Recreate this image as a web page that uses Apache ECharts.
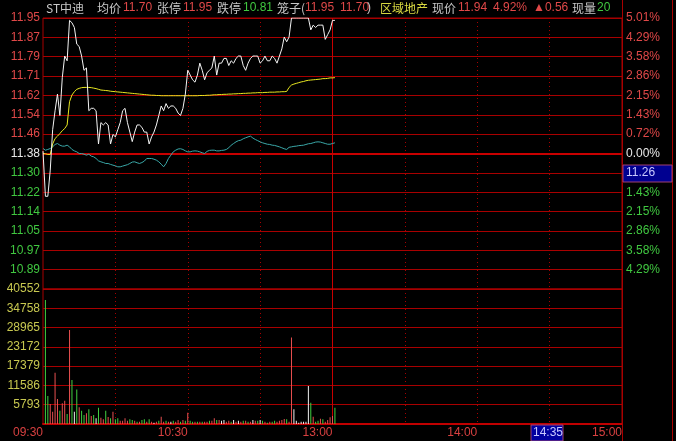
<!DOCTYPE html>
<html><head><meta charset="utf-8">
<script src="https://cdn.jsdelivr.net/npm/echarts@6/dist/echarts.min.js"></script>
<style>html,body{margin:0;padding:0;background:#000;}#c{width:676px;height:441px;}</style>
</head><body><div id="c"></div>
<script>
// ---- data ----
const preClose = 11.38;
const priceMin = 10.81, priceMax = 11.95;
const volMax = 40552;
const price = [
11.39,11.20,11.20,11.31,11.48,11.56,11.63,11.54,11.70,11.79,
11.77,11.94,11.93,11.91,11.84,11.83,11.79,11.73,11.74,11.56,
11.57,11.57,11.56,11.42,11.51,11.50,11.51,11.50,11.42,11.46,
11.45,11.48,11.51,11.56,11.57,11.51,11.47,11.43,11.47,11.50,
11.50,11.49,11.47,11.47,11.42,11.45,11.47,11.50,11.54,11.58,
11.56,11.59,11.57,11.58,11.58,11.57,11.55,11.54,11.57,11.63,
11.73,11.71,11.69,11.68,11.71,11.76,11.73,11.69,11.72,11.73,
11.74,11.79,11.71,11.76,11.76,11.78,11.78,11.75,11.77,11.76,
11.78,11.79,11.79,11.75,11.73,11.76,11.78,11.79,11.79,11.79,
11.76,11.77,11.79,11.77,11.77,11.79,11.78,11.76,11.79,11.82,
11.87,11.85,11.87,11.95,11.95,11.95,11.95,11.95,11.95,11.95,
11.95,11.90,11.92,11.91,11.92,11.92,11.92,11.86,11.88,11.90,
11.94,11.94];
const avgPrice = [
11.380,11.379,11.376,11.376,11.420,11.443,11.453,11.464,11.476,11.485,
11.500,11.598,11.626,11.640,11.650,11.654,11.657,11.658,11.658,11.658,
11.657,11.655,11.653,11.650,11.647,11.646,11.645,11.644,11.642,11.641,
11.640,11.639,11.638,11.637,11.636,11.635,11.634,11.633,11.632,11.631,
11.630,11.629,11.628,11.627,11.626,11.625,11.625,11.624,11.624,11.623,
11.623,11.623,11.623,11.623,11.623,11.623,11.623,11.623,11.623,11.623,
11.623,11.623,11.623,11.623,11.623,11.624,11.624,11.624,11.625,11.625,
11.626,11.627,11.627,11.628,11.628,11.629,11.629,11.630,11.630,11.631,
11.631,11.632,11.632,11.633,11.633,11.634,11.634,11.635,11.635,11.636,
11.636,11.636,11.637,11.637,11.638,11.638,11.638,11.639,11.639,11.640,
11.640,11.641,11.658,11.668,11.672,11.675,11.678,11.681,11.683,11.686,
11.688,11.689,11.690,11.691,11.692,11.693,11.695,11.695,11.696,11.698,
11.698,11.699];
const indexLine = [
11.401,11.394,11.397,11.401,11.408,11.418,11.422,11.415,11.411,11.411,
11.415,11.408,11.397,11.391,11.387,11.380,11.380,11.377,11.373,11.377,
11.369,11.366,11.359,11.349,11.345,11.342,11.338,11.338,11.334,11.331,
11.328,11.324,11.324,11.327,11.330,11.333,11.338,11.344,11.345,11.341,
11.338,11.342,11.348,11.359,11.359,11.359,11.356,11.352,11.345,11.335,
11.324,11.338,11.359,11.373,11.387,11.394,11.399,11.400,11.397,11.391,
11.387,11.387,11.390,11.391,11.390,11.387,11.383,11.380,11.389,11.393,
11.394,11.394,11.391,11.391,11.393,11.394,11.397,11.404,11.415,11.422,
11.429,11.434,11.436,11.442,11.446,11.450,11.453,11.445,11.439,11.434,
11.429,11.425,11.422,11.419,11.418,11.415,11.414,11.411,11.408,11.404,
11.400,11.397,11.406,11.408,11.410,11.411,11.413,11.414,11.415,11.418,
11.421,11.422,11.425,11.428,11.429,11.428,11.425,11.422,11.419,11.419,
11.422,11.425];
const volume = [
0,37250,8400,6000,3700,15400,7500,4000,6200,7000,
3000,28200,13200,3700,10400,5000,4000,2700,3200,4400,
2400,2700,1700,4900,1900,1400,4000,2100,1700,3700,
1400,1700,1000,1000,1700,1000,1400,1200,1000,700,
700,1200,1400,700,1400,700,400,700,1000,2200,
700,1000,700,700,1000,700,1200,700,1200,1000,
3400,1000,700,700,700,700,700,700,700,1000,
1000,1700,1200,1200,1000,1200,700,1000,700,1200,
700,1000,700,1000,1000,700,700,1200,1000,1000,
1200,1000,700,400,700,700,1000,700,1000,1200,
1500,1400,700,26000,4400,1000,400,700,700,700,
11400,6400,2200,700,1000,1600,1400,700,1200,2000,
2400,4900];
// tick direction: 1 up, -1 down, 0 unchanged
const volDir = [
0,-1,-1,1,1,1,1,-1,1,1,
-1,1,-1,0,-1,1,-1,-1,1,-1,
1,-1,0,-1,1,1,-1,1,-1,1,
-1,-1,1,1,1,1,-1,-1,1,-1,
1,-1,-1,1,-1,1,0,1,-1,1,
1,-1,1,0,-1,1,1,-1,1,-1,
1,-1,-1,1,-1,1,-1,1,1,-1,
1,1,-1,1,0,0,1,1,-1,0,
1,0,1,-1,1,-1,1,0,1,-1,
0,-1,1,-1,1,-1,-1,1,1,1,
1,-1,1,1,0,0,0,0,0,0,
0,-1,1,-1,-1,1,-1,1,1,1,
1,-1];
const timeLabelsShown = {0:'09:30',60:'10:30',120:'13:00',180:'14:00',240:'15:00'};
// trading minutes: 09:30-11:30 (11:30 shares slot with 13:00), 13:01-15:00
const times = [];
function hm(m){const h=Math.floor(m/60),mm=m%60;return (h<10?'0':'')+h+':'+(mm<10?'0':'')+mm;}
for(let m=570;m<690;m++) times.push(hm(m));
times.push('13:00');
for(let m=781;m<=900;m++) times.push(hm(m));

// ---- chart ----
const RED='#e04848', GREEN='#40c840', WHITE='#e8e8e8', GRID='#a80000', YEL='#c8c850';
const FONT='"Liberation Sans", Arial, sans-serif';
const CJK='"Noto Sans CJK SC", sans-serif';
const chart = echarts.init(document.getElementById('c'), null, {renderer:'canvas'});
const pInt = (priceMax-priceMin)/14;
const colorOf = d => d>0?'#e85050':(d<0?'#40d040':'#f0f0f0');

const header = [
 ['ST中迪',46,'#c8c8c8'],['均价',97,'#c8c8c8'],['11.70',123,RED],['张停',157,'#c8c8c8'],['11.95',183,RED],
 ['跌停',217,'#c8c8c8'],['10.81',243,GREEN],['笼子(',277,'#c8c8c8'],['11.95',305,RED],['11.70',340,RED],[')',367,'#c8c8c8'],
 ['区域地产',380,'#d8d840'],['现价',432,'#c8c8c8'],['11.94',458,RED],['4.92%',493,RED],['▲0.56',533,RED],
 ['现量',572,'#c8c8c8'],['20',597,GREEN]
];
const graphics = header.map(h=>({type:'text',left:h[1],top:2,z:100,silent:true,
  style:{text:h[0],fill:h[2],font:'12px '+(/[\u4e00-\u9fff]/.test(h[0])?CJK:FONT)}}));
graphics.push(
 {type:'line',z:50,silent:true,shape:{x1:622.5,y1:0,x2:622.5,y2:441},style:{stroke:GRID,lineWidth:1}},
 {type:'line',z:50,silent:true,shape:{x1:672.5,y1:0,x2:672.5,y2:441},style:{stroke:GRID,lineWidth:1}},
 {type:'rect',z:60,silent:true,shape:{x:623,y:165,width:49,height:17},style:{fill:'#000090',stroke:'#a04070',lineWidth:1}},
 {type:'text',z:61,silent:true,left:626,top:167,style:{text:'11.26',fill:'#c8c8ff',font:'12px '+FONT}},
 {type:'rect',z:60,silent:true,shape:{x:531,y:425,width:32,height:16},style:{fill:'#0000a0',stroke:'#a04070',lineWidth:1}},
 {type:'text',z:61,silent:true,left:533,top:427,style:{text:'14:35',fill:'#c8c8ff',font:'12px '+FONT}}
);

const xBase = (gi, labels) => ({
  type:'category', gridIndex:gi, data:times, boundaryGap:false,
  axisLine:{show:labels, lineStyle:{color:'#c00000',width:2}}, axisTick:{show:false},
  axisLabel:{show:labels, interval:(i)=>timeLabelsShown[i]!==undefined, formatter:(v,i)=>timeLabelsShown[i]||'',
    align:'right', color:'#d84040', fontSize:12, fontFamily:FONT, margin:3},
  splitLine:{show:true, interval:(i)=>i%30===0 && i!==0 && i!==120 && i!==240,
    lineStyle:{color:GRID, type:[1,3], width:1}}
});

chart.setOption({
  backgroundColor:'#000',
  animation:false,
  graphic:graphics,
  grid:[
    {left:43,right:54,top:18,height:271,show:true,borderColor:GRID,borderWidth:1,backgroundColor:'transparent'},
    {left:43,right:54,top:289,height:135,show:true,borderColor:GRID,borderWidth:1,backgroundColor:'transparent'}
  ],
  xAxis:[xBase(0,false), xBase(1,true)],
  yAxis:[
    {type:'value',gridIndex:0,min:priceMin,max:priceMax,interval:pInt,position:'left',
     axisLine:{show:false},axisTick:{show:false},
     splitLine:{show:true,lineStyle:{color:GRID,width:1}},
     axisLabel:{showMinLabel:false,margin:3,fontSize:12,fontFamily:FONT,
       formatter:v=>v.toFixed(2),
       color:v=>v>preClose+0.004?RED:(v<preClose-0.004?GREEN:WHITE)}},
    {type:'value',gridIndex:0,min:priceMin,max:priceMax,interval:pInt,position:'right',
     axisLine:{show:false},axisTick:{show:false},splitLine:{show:false},
     axisLabel:{showMinLabel:false,margin:4,fontSize:12,fontFamily:FONT,
       formatter:v=>Math.abs((v-preClose)/preClose*100).toFixed(2)+'%',
       color:v=>v>preClose+0.004?RED:(v<preClose-0.004?GREEN:WHITE)}},
    {type:'value',gridIndex:1,min:0,max:volMax,interval:volMax/7,position:'left',
     axisLine:{show:false},axisTick:{show:false},
     splitLine:{show:true,lineStyle:{color:GRID,width:1}},
     axisLabel:{showMinLabel:false,margin:3,fontSize:12,fontFamily:FONT,color:YEL,
       formatter:v=>String(Math.floor(v+1e-6))}}
  ],
  series:[
    {name:'昨收',type:'line',xAxisIndex:0,yAxisIndex:0,data:[],symbol:'none',z:1,
     markLine:{silent:true,symbol:'none',label:{show:false},animation:false,z:1,
       data:[{yAxis:preClose,lineStyle:{color:'#c80000',width:2,type:'solid'}},
             {xAxis:120,lineStyle:{color:'#c80000',width:1,type:'solid'}}]}},
    {name:'指数',type:'line',xAxisIndex:0,yAxisIndex:0,data:indexLine,symbol:'none',
     lineStyle:{color:'#3aa8a8',width:1},z:3},
    {name:'均价',type:'line',xAxisIndex:0,yAxisIndex:0,data:avgPrice,symbol:'none',
     lineStyle:{color:'#e8e820',width:1},z:4},
    {name:'价格',type:'line',xAxisIndex:0,yAxisIndex:0,data:price,symbol:'none',
     lineStyle:{color:'#f4f4f4',width:1},z:5},
    {name:'成交量',type:'bar',xAxisIndex:1,yAxisIndex:2,barWidth:1,z:3,
     data:volume.map((v,i)=>({value:v,itemStyle:{color:colorOf(volDir[i])}})),
     markLine:{silent:true,symbol:'none',label:{show:false},animation:false,z:1,
       data:[{xAxis:120,lineStyle:{color:'#c80000',width:1,type:'solid'}}]}}
  ]
});
</script></body></html>
